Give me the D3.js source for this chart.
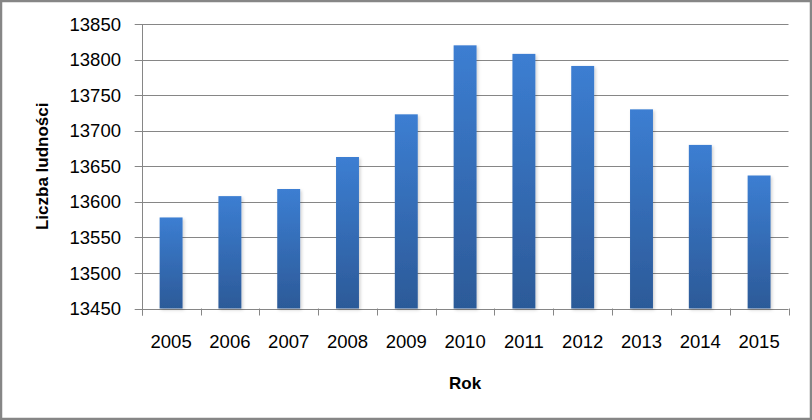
<!DOCTYPE html>
<html>
<head>
<meta charset="utf-8">
<script src="https://cdn.jsdelivr.net/npm/d3@7"></script>
<style>
html,body{margin:0;padding:0;background:#fff;}
svg{display:block;}
</style>
</head>
<body>
<script>
const years = ["2005","2006","2007","2008","2009","2010","2011","2012","2013","2014","2015"];
const population = [13578, 13608, 13618, 13663, 13723, 13820, 13808, 13791, 13730, 13680, 13637];
const yTicks = [13450, 13500, 13550, 13600, 13650, 13700, 13750, 13800, 13850];
const yTitle = "Liczba ludności";
const xTitle = "Rok";

const W = 812, H = 420;
const plotLeft = 141.7, plotRight = 788.5, plotTop = 24, plotBottom = 308.5;
const font = "'Liberation Sans', Arial, sans-serif";

const svg = d3.select("body").append("svg").attr("width", W).attr("height", H);

const defs = svg.append("defs");
const grad = defs.append("linearGradient").attr("id","barGrad")
  .attr("x1",0).attr("y1",0).attr("x2",0).attr("y2",1);
grad.append("stop").attr("offset","0%").attr("stop-color","#3c7ed2");
grad.append("stop").attr("offset","100%").attr("stop-color","#2c5a98");
const filt = defs.append("filter").attr("id","shadow").attr("x","-30%").attr("y","-10%").attr("width","160%").attr("height","130%");
filt.append("feDropShadow").attr("dx",1.5).attr("dy",1.5).attr("stdDeviation",1.5).attr("flood-color","#000").attr("flood-opacity",0.18);

// background & border
svg.append("rect").attr("x",1).attr("y",1).attr("width",W-2).attr("height",H-2)
  .attr("fill","#fff").attr("stroke","#868686").attr("stroke-width",2.5);

const y = d3.scaleLinear().domain([13450, 13850]).range([plotBottom, plotTop]);
const xCat = d3.scaleBand().domain(years).range([plotLeft, plotRight]).padding(0);
const xBar = d3.scaleBand().domain(years).range([plotLeft, plotRight]).paddingInner(0.61).paddingOuter(0.305);

// gridlines
svg.append("g").selectAll("line").data(yTicks).join("line")
  .attr("x1", plotLeft - 7).attr("x2", plotRight)
  .attr("y1", d => Math.round(y(d)) + 0.5).attr("y2", d => Math.round(y(d)) + 0.5)
  .attr("stroke", "#868686").attr("stroke-width", 1);

// y axis line
svg.append("line").attr("x1", Math.round(plotLeft)+0.5).attr("x2", Math.round(plotLeft)+0.5)
  .attr("y1", y(13850)).attr("y2", plotBottom + 7)
  .attr("stroke","#868686");

// x category tick marks
const boundaries = years.map(d => xCat(d)).concat([plotRight]);
svg.append("g").selectAll("line").data(boundaries).join("line")
  .attr("x1", d => Math.round(d)+0.5).attr("x2", d => Math.round(d)+0.5)
  .attr("y1", plotBottom).attr("y2", plotBottom + 7)
  .attr("stroke","#868686");

// bars
svg.append("g").selectAll("rect").data(years).join("rect")
  .attr("x", d => xBar(d))
  .attr("width", xBar.bandwidth())
  .attr("y", (d,i) => y(population[i]))
  .attr("height", (d,i) => y(13450) - y(population[i]))
  .attr("fill","url(#barGrad)")
  .attr("filter","url(#shadow)");

// y tick labels
svg.append("g").selectAll("text").data(yTicks).join("text")
  .attr("x", 121).attr("y", d => y(d))
  .attr("dy","0.36em")
  .attr("text-anchor","end")
  .attr("font-family", font).attr("font-size", 18.5).attr("fill","#000")
  .text(d => d);

// x tick labels
svg.append("g").selectAll("text").data(years).join("text")
  .attr("x", d => xCat(d) + xCat.bandwidth()/2).attr("y", 341)
  .attr("dy","0.36em")
  .attr("text-anchor","middle")
  .attr("font-family", font).attr("font-size", 18.5).attr("fill","#000")
  .text(d => d);

// axis titles
svg.append("text")
  .attr("transform", `translate(42,${(plotTop+plotBottom)/2}) rotate(-90)`)
  .attr("dy","0.36em")
  .attr("text-anchor","middle")
  .attr("font-family", font).attr("font-size", 17).attr("font-weight","bold")
  .text(yTitle);

svg.append("text")
  .attr("x", (plotLeft+plotRight)/2).attr("y", 383)
  .attr("dy","0.36em")
  .attr("text-anchor","middle")
  .attr("font-family", font).attr("font-size", 17).attr("font-weight","bold")
  .text(xTitle);
</script>
</body>
</html>
